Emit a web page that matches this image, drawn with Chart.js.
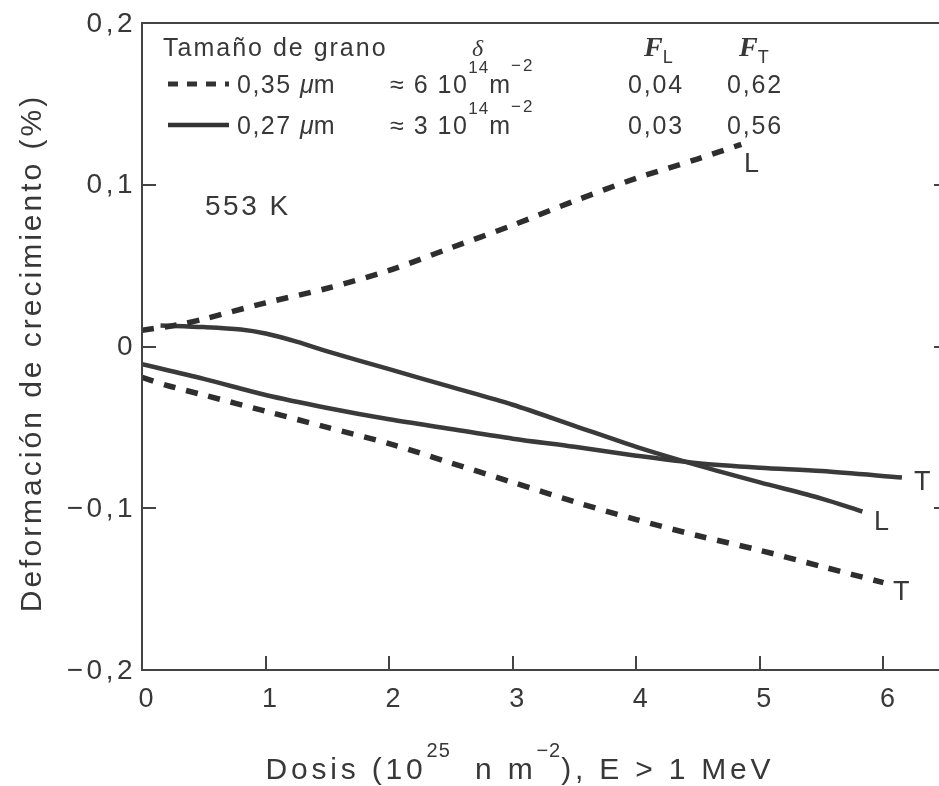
<!DOCTYPE html>
<html>
<head>
<meta charset="utf-8">
<script src="https://cdn.jsdelivr.net/npm/chart.js@4"></script>
<style>
  body { margin: 0; background: #fff; }
  #wrap { width: 939px; height: 786px; position: relative; }
</style>
</head>
<body>
<div id="wrap"><canvas id="growthChart"></canvas></div>
<script>
// ---- data (dose in 10^25 n/m2, strain in %) ----
const dose035L = [0, 0.3, 0.5, 1, 1.5, 2, 2.5, 3, 3.5, 4, 4.5, 4.85];
const strain035L = [0.010, 0.0135, 0.017, 0.027, 0.036, 0.047, 0.061, 0.075, 0.090, 0.104, 0.116, 0.125];

const dose035T = [0, 0.2, 0.5, 1, 1.5, 2, 2.5, 3, 3.5, 4, 4.5, 5, 5.5, 6];
const strain035T = [-0.019, -0.024, -0.030, -0.040, -0.050, -0.060, -0.072, -0.084, -0.096, -0.107, -0.117, -0.126, -0.136, -0.146];

const dose027L = [0.15, 0.5, 0.8, 1, 1.25, 1.5, 2, 2.5, 3, 3.5, 4, 4.5, 5, 5.5, 5.83];
const strain027L = [0.013, 0.012, 0.0105, 0.008, 0.003, -0.003, -0.014, -0.025, -0.036, -0.049, -0.062, -0.0735, -0.084, -0.094, -0.102];

const dose027T = [0, 0.5, 1, 1.5, 2, 2.5, 3, 3.5, 4, 4.5, 5, 5.5, 6.15];
const strain027T = [-0.011, -0.020, -0.030, -0.038, -0.045, -0.051, -0.057, -0.062, -0.0675, -0.0722, -0.075, -0.077, -0.081];

const xTicks = [0, 1, 2, 3, 4, 5, 6];
const yTicks = [0.2, 0.1, 0, -0.1, -0.2];
const yTickText = ["0,2", "0,1", "0", "\u22120,1", "\u22120,2"];

// legend table rows
const grainSizes = ["0,35", "0,27"];
const deltaValues = ["6", "3"];
const fL = ["0,04", "0,03"];
const fT = ["0,62", "0,56"];

const INK = "#383838";
const FONT = "'Liberation Sans', Arial, sans-serif";

function pts(xs, ys) {
    return xs.map((x, i) => ({ x: x, y: ys[i] }));
}

// draw a run of text pieces (for super/subscripts)
function textRun(ctx, x, y, parts, align) {
    let total = 0;
    parts.forEach(p => {
        ctx.font = p.font;
        ctx.letterSpacing = (p.ls || 0) + "px";
        p.w = ctx.measureText(p.t).width;
        total += p.w;
    });
    let cx = align === "center" ? x - total / 2 : (align === "right" ? x - total : x);
    ctx.textAlign = "left";
    parts.forEach(p => {
        ctx.font = p.font;
        ctx.letterSpacing = (p.ls || 0) + "px";
        ctx.fillText(p.t, cx, y + (p.dy || 0));
        cx += p.w;
    });
    ctx.letterSpacing = "0px";
}

const framePlugin = {
    id: "frame",
    afterDraw(chart) {
        const ctx = chart.ctx;
        const a = chart.chartArea;
        const xs = chart.scales.x, ys = chart.scales.y;
        ctx.save();
        ctx.strokeStyle = "#444";
        ctx.lineWidth = 2;
        ctx.setLineDash([]);
        ctx.beginPath();
        ctx.moveTo(a.right + 2, a.top);
        ctx.lineTo(a.left, a.top);
        ctx.lineTo(a.left, a.bottom);
        ctx.lineTo(a.right + 2, a.bottom);
        ctx.stroke();

        // inward ticks
        ctx.beginPath();
        xTicks.slice(1).forEach(v => {
            const px = Math.round(xs.getPixelForValue(v));
            ctx.moveTo(px, a.bottom);
            ctx.lineTo(px, a.bottom - 14);
        });
        [0.1, 0, -0.1].forEach(v => {
            const py = Math.round(ys.getPixelForValue(v));
            ctx.moveTo(a.left, py);
            ctx.lineTo(a.left + 14, py);
            ctx.moveTo(a.right, py);
            ctx.lineTo(a.right - 5, py);
        });
        ctx.stroke();

        // tick labels
        ctx.fillStyle = INK;
        ctx.textBaseline = "middle";
        const tickFont = "28px " + FONT;
        yTicks.forEach((v, i) => {
            textRun(ctx, 136, ys.getPixelForValue(v) + 1, [{ t: yTickText[i], font: tickFont, ls: 3.5 }], "right");
        });
        xTicks.forEach(v => {
            textRun(ctx, xs.getPixelForValue(v) + 4, 700, [{ t: String(v), font: "27px " + FONT }], "center");
        });

        // axis titles
        const tf = "30px " + FONT, sf = "20px " + FONT;
        ctx.textBaseline = "alphabetic";
        textRun(ctx, 520, 779, [
            { t: "Dosis (10", font: tf, ls: 3.8 },
            { t: "25", font: sf, dy: -22, ls: 1 },
            { t: "  n m", font: tf, ls: 3.8 },
            { t: "\u22122", font: sf, dy: -22, ls: 1 },
            { t: "), E > 1 MeV", font: tf, ls: 3.8 }
        ], "center");

        ctx.save();
        ctx.translate(41, 353);
        ctx.rotate(-Math.PI / 2);
        textRun(ctx, 0, 0, [{ t: "Deformación de crecimiento (%)", font: tf, ls: 3 }], "center");
        ctx.restore();

        // legend table
        const lf = "25px " + FONT;
        const lfi = "italic 25px " + FONT;
        const sup = "17px " + FONT;
        textRun(ctx, 163, 56, [{ t: "Tamaño de grano", font: lf, ls: 2 }], "left");
        textRun(ctx, 472, 56, [{ t: "\u03b4", font: "italic 24px 'Liberation Serif', serif" }], "left");
        textRun(ctx, 644, 56, [
            { t: "F", font: "italic bold 28px 'Liberation Serif', serif" },
            { t: "L", font: "18px " + FONT, dy: 7 }
        ], "left");
        textRun(ctx, 739, 56, [
            { t: "F", font: "italic bold 28px 'Liberation Serif', serif" },
            { t: "T", font: "18px " + FONT, dy: 7 }
        ], "left");

        const rowY = [93, 134];
        const sampleY = [84, 125];
        ctx.strokeStyle = "#333";
        grainSizes.forEach((g, i) => {
            ctx.beginPath();
            ctx.lineWidth = i === 0 ? 5 : 4.5;
            ctx.setLineDash(i === 0 ? [10, 9] : []);
            ctx.moveTo(168, sampleY[i]);
            ctx.lineTo(229, sampleY[i]);
            ctx.stroke();
            ctx.setLineDash([]);
            textRun(ctx, 237, rowY[i], [
                { t: g + " ", font: lf, ls: 1.5 },
                { t: "\u03bc", font: lfi },
                { t: "m", font: lf, ls: 1 }
            ], "left");
            textRun(ctx, 390, rowY[i], [
                { t: "\u2248 " + deltaValues[i] + " 10", font: lf, ls: 1.5 },
                { t: "14", font: sup, dy: -20, ls: 1 },
                { t: "m", font: lf, ls: 1 },
                { t: "\u22122", font: sup, dy: -22, ls: 2 }
            ], "left");
            textRun(ctx, 628, rowY[i], [{ t: fL[i], font: lf, ls: 1.8 }], "left");
            textRun(ctx, 727, rowY[i], [{ t: fT[i], font: lf, ls: 1.8 }], "left");
        });

        // temperature and curve end labels
        textRun(ctx, 205, 215, [{ t: "553 K", font: "28px " + FONT, ls: 2.5 }], "left");
        const ef = "27px " + FONT;
        textRun(ctx, 744, 172, [{ t: "L", font: ef }], "left");
        textRun(ctx, 914, 490, [{ t: "T", font: ef }], "left");
        textRun(ctx, 874, 530, [{ t: "L", font: ef }], "left");
        textRun(ctx, 893, 600, [{ t: "T", font: ef }], "left");
        ctx.restore();
    }
};

const dashedStyle = { borderColor: "#2e2e2e", borderWidth: 5.5, borderDash: [12, 11] };
const solidStyle = { borderColor: "#3a3a3a", borderWidth: 4.5, borderDash: [] };

new Chart(document.getElementById("growthChart"), {
    type: "line",
    data: {
        datasets: [
            Object.assign({ label: "0,35 µm L", data: pts(dose035L, strain035L) }, dashedStyle),
            Object.assign({ label: "0,35 µm T", data: pts(dose035T, strain035T) }, dashedStyle),
            Object.assign({ label: "0,27 µm L", data: pts(dose027L, strain027L) }, solidStyle),
            Object.assign({ label: "0,27 µm T", data: pts(dose027T, strain027T) }, solidStyle)
        ]
    },
    options: {
        responsive: true,
        maintainAspectRatio: false,
        animation: false,
        layout: { padding: { left: 142, top: 23, right: 0, bottom: 116 } },
        elements: {
            point: { radius: 0 },
            line: { tension: 0.3, fill: false }
        },
        plugins: { legend: { display: false }, tooltip: { enabled: false } },
        scales: {
            x: { type: "linear", min: 0, max: 6.45, display: false },
            y: { min: -0.2, max: 0.2, display: false }
        }
    },
    plugins: [framePlugin]
});
</script>
</body>
</html>
